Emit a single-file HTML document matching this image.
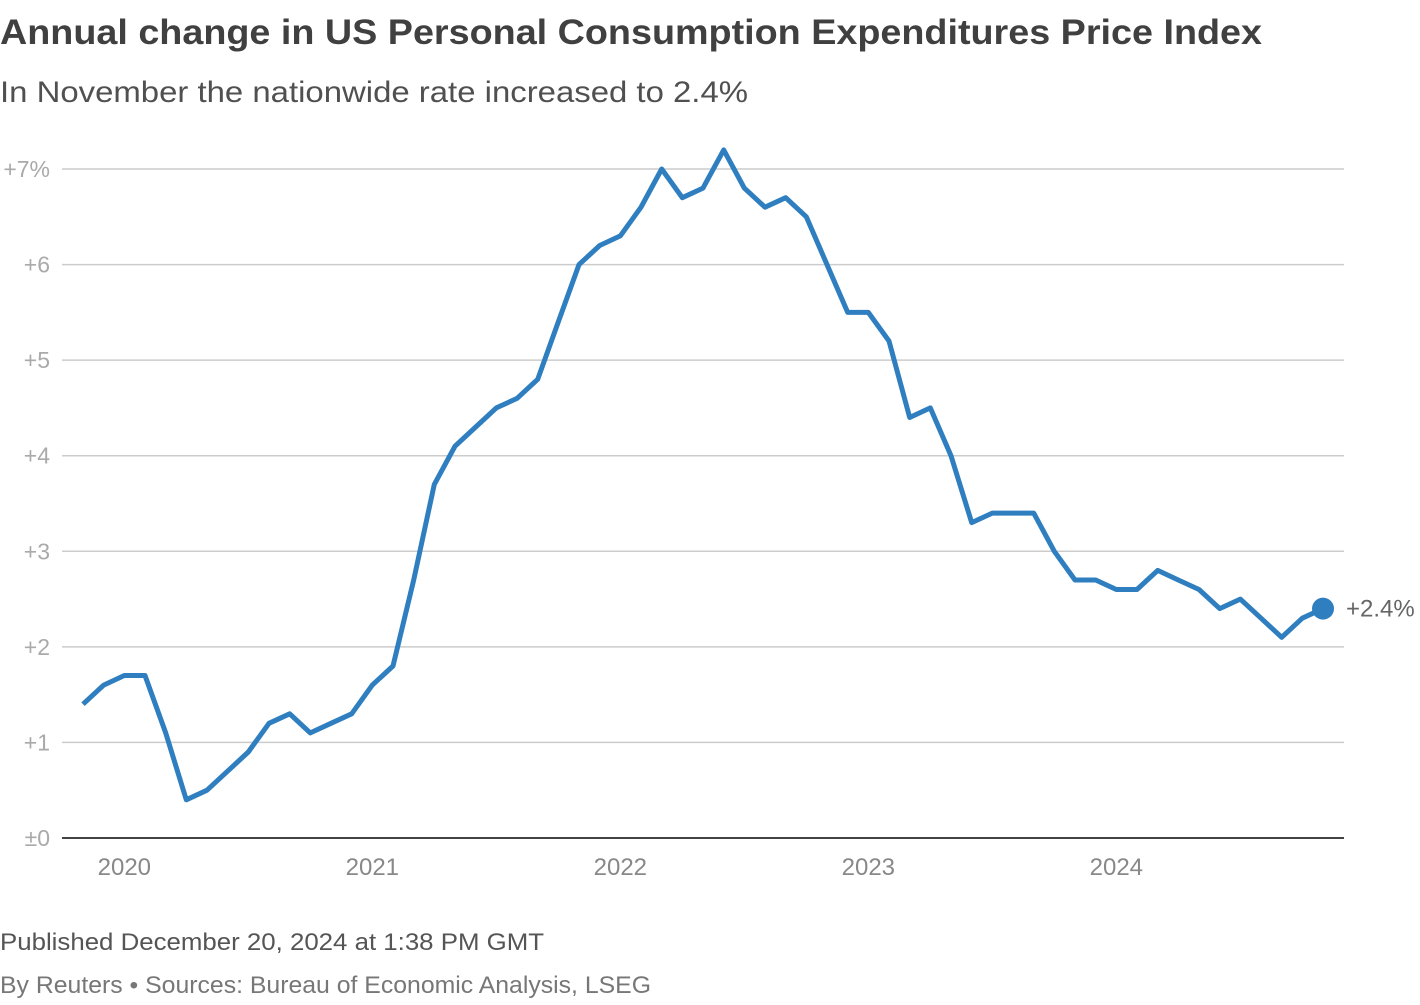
<!DOCTYPE html>
<html><head><meta charset="utf-8"><style>
body{margin:0;width:1420px;height:1000px;background:#fff;font-family:"Liberation Sans",sans-serif;overflow:hidden}
</style></head><body>
<svg width="1420" height="1000" xmlns="http://www.w3.org/2000/svg">
<text x="0" y="44" font-size="35" font-weight="bold" fill="#404040" textLength="1262" lengthAdjust="spacingAndGlyphs">Annual change in US Personal Consumption Expenditures Price Index</text>
<text x="0" y="102" font-size="30" fill="#505050" textLength="748" lengthAdjust="spacingAndGlyphs">In November the nationwide rate increased to 2.4%</text>
<g id="grid"></g><g id="xaxis"></g>
<path id="line" fill="none" stroke="#2f7fc0" stroke-width="5" stroke-linejoin="round"/>
<g id="last"></g>
<text x="0" y="950" font-size="24" fill="#555" textLength="544" lengthAdjust="spacingAndGlyphs">Published December 20, 2024 at 1:38 PM GMT</text>
<text x="0" y="993" font-size="24" fill="#777" textLength="651" lengthAdjust="spacingAndGlyphs">By Reuters • Sources: Bureau of Economic Analysis, LSEG</text>
</svg>
<script>
const values=[1.4,1.6,1.7,1.7,1.1,0.4,0.5,0.7,0.9,1.2,1.3,1.1,1.2,1.3,1.6,1.8,2.7,3.7,4.1,4.3,4.5,4.6,4.8,5.4,6.0,6.2,6.3,6.6,7.0,6.7,6.8,7.2,6.8,6.6,6.7,6.5,6.0,5.5,5.5,5.2,4.4,4.5,4.0,3.3,3.4,3.4,3.4,3.0,2.7,2.7,2.6,2.6,2.8,2.7,2.6,2.4,2.5,2.3,2.1,2.3,2.4];
const yTicks=[0,1,2,3,4,5,6,7];
const yLabels=["±0","+1","+2","+3","+4","+5","+6","+7%"];
const years=["2020","2021","2022","2023","2024"];
const yearIdx=[2,14,26,38,50];
const X=i=>83+i*(1240/60);
const Y=v=>838-v*95.57;
const ns="http://www.w3.org/2000/svg";
const g=document.getElementById('grid');
yTicks.forEach((t,i)=>{
 const l=document.createElementNS(ns,'line');
 l.setAttribute('x1',62);l.setAttribute('x2',1344);l.setAttribute('y1',Y(t));l.setAttribute('y2',Y(t));
 l.setAttribute('stroke',t===0?'#444':'#ccc');l.setAttribute('stroke-width',t===0?2:1.5);
 
 
 g.appendChild(l);
 const tx=document.createElementNS(ns,'text');
 tx.setAttribute('x',50);tx.setAttribute('y',Y(t)+8);tx.setAttribute('text-anchor','end');
 tx.setAttribute('font-size',23);tx.setAttribute('fill','#aaa');tx.textContent=yLabels[i];
 
 
 g.appendChild(tx);
});
const xa=document.getElementById('xaxis');
years.forEach((y,i)=>{
 const tx=document.createElementNS(ns,'text');
 tx.setAttribute('x',X(yearIdx[i]));tx.setAttribute('y',875);tx.setAttribute('text-anchor','middle');
 tx.setAttribute('font-size',24);tx.setAttribute('fill','#888');tx.textContent=y;
 
 
 xa.appendChild(tx);
});
document.getElementById('line').setAttribute('d',values.map((v,i)=>(i?'L':'M')+X(i).toFixed(1)+','+Y(v).toFixed(1)).join(''));
const n=values.length-1,last=document.getElementById('last');
const c=document.createElementNS(ns,'circle');
c.setAttribute('cx',X(n));c.setAttribute('cy',Y(values[n]));c.setAttribute('r',11);c.setAttribute('fill','#2f7fc0');


last.appendChild(c);
const lt=document.createElementNS(ns,'text');
lt.setAttribute('x',X(n)+23);lt.setAttribute('y',Y(values[n])+8);lt.setAttribute('font-size',24);lt.setAttribute('fill','#666');
lt.textContent='+'+values[n]+'%';


last.appendChild(lt);
</script>
</body></html>
